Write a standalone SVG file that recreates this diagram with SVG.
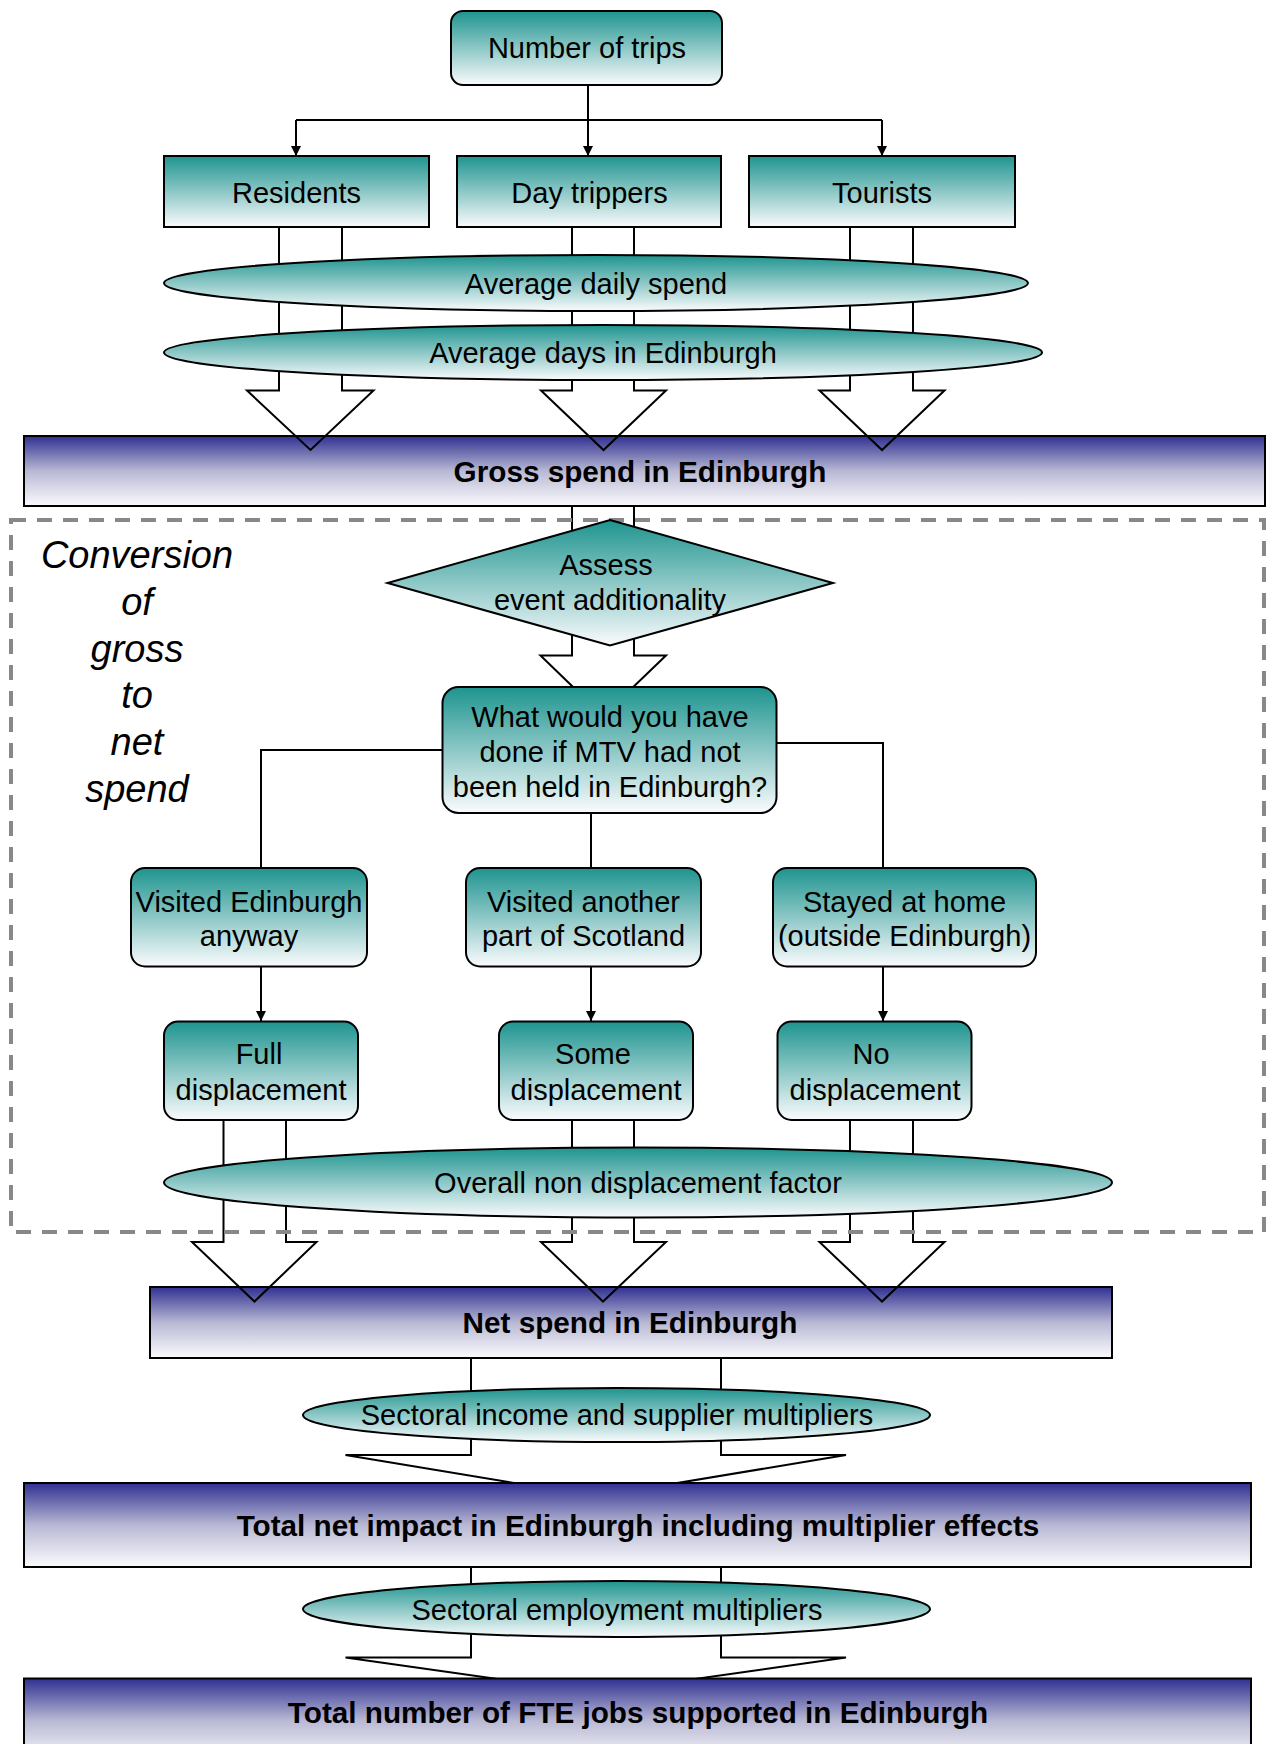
<svg xmlns="http://www.w3.org/2000/svg" width="1266" height="1744" viewBox="0 0 1266 1744">
<defs>
<linearGradient id="teal" x1="0" y1="0" x2="0" y2="1"><stop offset="0" stop-color="#1e948f"/><stop offset="1" stop-color="#fafbfd"/></linearGradient>
<linearGradient id="blue" x1="0" y1="0" x2="0" y2="1"><stop offset="0" stop-color="#303092"/><stop offset="0.5" stop-color="#b8b8d4"/><stop offset="1" stop-color="#fbfbfd"/></linearGradient>
<marker id="ah" viewBox="0 0 10 10" refX="10" refY="5" markerWidth="10" markerHeight="14" markerUnits="userSpaceOnUse" orient="auto"><path d="M0,0 L10,5 L0,10 Z" fill="#000"/></marker>
<style>
.t{font-family:"Liberation Sans",Arial,sans-serif;font-size:29px;fill:#000;text-anchor:middle}
.b{font-weight:bold;font-size:29.7px}
.tn{fill:url(#teal);stroke:#000;stroke-width:2}
.bl{fill:url(#blue);stroke:#000;stroke-width:2}
.c{fill:none;stroke:#000;stroke-width:2}
.ba{fill:none;stroke:#000;stroke-width:2;stroke-linejoin:miter}
.conv{font-family:"Liberation Sans",Arial,sans-serif;font-size:38px;font-style:italic;fill:#000;text-anchor:middle}
</style>
</defs>
<rect width="1266" height="1744" fill="#fff"/>

<g id="gross"><rect class="bl" x="24" y="436" width="1241" height="70"/><text class="t b" x="640" y="482">Gross spend in Edinburgh</text></g>
<g id="netspend"><rect class="bl" x="150" y="1287" width="962" height="71"/><text class="t b" x="630" y="1333">Net spend in Edinburgh</text></g>

<g id="connectors">
<path class="c" d="M588,85 V120 M296,120 H882"/>
<path class="c" d="M296,120 V156" marker-end="url(#ah)"/>
<path class="c" d="M588,120 V156" marker-end="url(#ah)"/>
<path class="c" d="M882,120 V156" marker-end="url(#ah)"/>
<path class="ba" d="M279,227 V390.5 H247 L310.5,450 L373.5,390.5 H342 V227"/>
<path class="ba" d="M572,227 V390.5 H541 L603.5,450 L666,390.5 H634 V227"/>
<path class="ba" d="M850,227 V390.5 H819.5 L882,450 L944.5,390.5 H913 V227"/>
<path class="ba" d="M572,506 V655.5 H540.5 L603,716 L666,655.5 H634 V506"/>
<path class="c" d="M442,750 H261 V868"/>
<path class="c" d="M776,743 H883 V868"/>
<path class="c" d="M591,813 V868"/>
<path class="c" d="M261,967 V1021" marker-end="url(#ah)"/>
<path class="c" d="M591,967 V1021" marker-end="url(#ah)"/>
<path class="c" d="M883,967 V1021" marker-end="url(#ah)"/>
<path class="ba" d="M223.5,1120 V1242 H192 L254.5,1301.5 L316.5,1242 H286 V1120"/>
<path class="ba" d="M572,1120 V1242 H541 L603,1301.5 L666,1242 H634 V1120"/>
<path class="ba" d="M850,1120 V1242 H819.5 L882,1301.5 L944.5,1242 H913 V1120"/>
<path class="ba" d="M471,1358 V1455 H345.5 L596,1496.5 L846,1455 H721 V1358"/>
<path class="ba" d="M471,1567 V1657.5 H345.5 L596,1693 L846,1657.5 H721 V1567"/>
</g>

<g id="boundary"><rect x="11" y="520" width="1253" height="712" fill="none" stroke="#888" stroke-width="4" stroke-dasharray="15,11"/></g>
<g id="conversion-label">
<text class="conv" x="137" y="568">Conversion</text>
<text class="conv" x="137" y="615">of</text>
<text class="conv" x="137" y="662">gross</text>
<text class="conv" x="137" y="708">to</text>
<text class="conv" x="137" y="755">net</text>
<text class="conv" x="137" y="802">spend</text>
</g>

<g id="trips"><rect class="tn" x="451" y="11" width="271" height="74" rx="12"/><text class="t" x="587" y="58">Number of trips</text></g>
<g id="residents"><rect class="tn" x="164" y="156" width="265" height="71"/><text class="t" x="296.5" y="203">Residents</text></g>
<g id="daytrippers"><rect class="tn" x="457" y="156" width="264" height="71"/><text class="t" x="589.5" y="203">Day trippers</text></g>
<g id="tourists"><rect class="tn" x="749" y="156" width="266" height="71"/><text class="t" x="882" y="203">Tourists</text></g>
<g id="dailyspend"><ellipse class="tn" cx="596" cy="283" rx="432" ry="28"/><text class="t" x="596" y="293.5">Average daily spend</text></g>
<g id="days"><ellipse class="tn" cx="603" cy="352.5" rx="439" ry="27.5"/><text class="t" x="603" y="363">Average days in Edinburgh</text></g>

<g id="assess"><polygon class="tn" points="610,520 833,583 610,645.5 387.5,583"/><text class="t" x="606" y="575">Assess</text><text class="t" x="610" y="610">event additionality</text></g>
<g id="question"><rect class="tn" x="442.5" y="687" width="334" height="126" rx="16"/><text class="t" x="610" y="727">What would you have</text><text class="t" x="610" y="762">done if MTV had not</text><text class="t" x="610" y="797">been held in Edinburgh?</text></g>
<g id="visited-edinburgh"><rect class="tn" x="131" y="868" width="236" height="98.5" rx="14"/><text class="t" x="249" y="912">Visited Edinburgh</text><text class="t" x="249" y="946">anyway</text></g>
<g id="visited-scotland"><rect class="tn" x="466" y="868" width="235" height="98.5" rx="14"/><text class="t" x="583.5" y="912">Visited another</text><text class="t" x="583.5" y="946">part of Scotland</text></g>
<g id="stayed-home"><rect class="tn" x="773" y="868" width="263" height="98.5" rx="14"/><text class="t" x="904.5" y="912">Stayed at home</text><text class="t" x="904.5" y="946">(outside Edinburgh)</text></g>
<g id="full"><rect class="tn" x="164" y="1021.5" width="194" height="98.5" rx="14"/><text class="t" x="259" y="1064">Full</text><text class="t" x="261" y="1100">displacement</text></g>
<g id="some"><rect class="tn" x="499" y="1021.5" width="194" height="98.5" rx="14"/><text class="t" x="593" y="1064">Some</text><text class="t" x="596" y="1100">displacement</text></g>
<g id="none"><rect class="tn" x="777.5" y="1021.5" width="194" height="98.5" rx="14"/><text class="t" x="871" y="1064">No</text><text class="t" x="875" y="1100">displacement</text></g>
<g id="nondisp"><ellipse class="tn" cx="638" cy="1182.5" rx="474" ry="35"/><text class="t" x="638" y="1193">Overall non displacement factor</text></g>

<g id="income-mult"><ellipse class="tn" cx="616.5" cy="1415" rx="313.5" ry="27"/><text class="t" x="617" y="1425">Sectoral income and supplier multipliers</text></g>
<g id="total-impact"><rect class="bl" x="24" y="1483" width="1227" height="84"/><text class="t b" x="638" y="1536">Total net impact in Edinburgh including multiplier effects</text></g>
<g id="employment-mult"><ellipse class="tn" cx="616.5" cy="1609" rx="313.5" ry="28"/><text class="t" x="617" y="1620">Sectoral employment multipliers</text></g>
<g id="fte"><rect class="bl" x="24" y="1678.5" width="1227" height="84"/><text class="t b" x="638" y="1723">Total number of FTE jobs supported in Edinburgh</text></g>
</svg>
